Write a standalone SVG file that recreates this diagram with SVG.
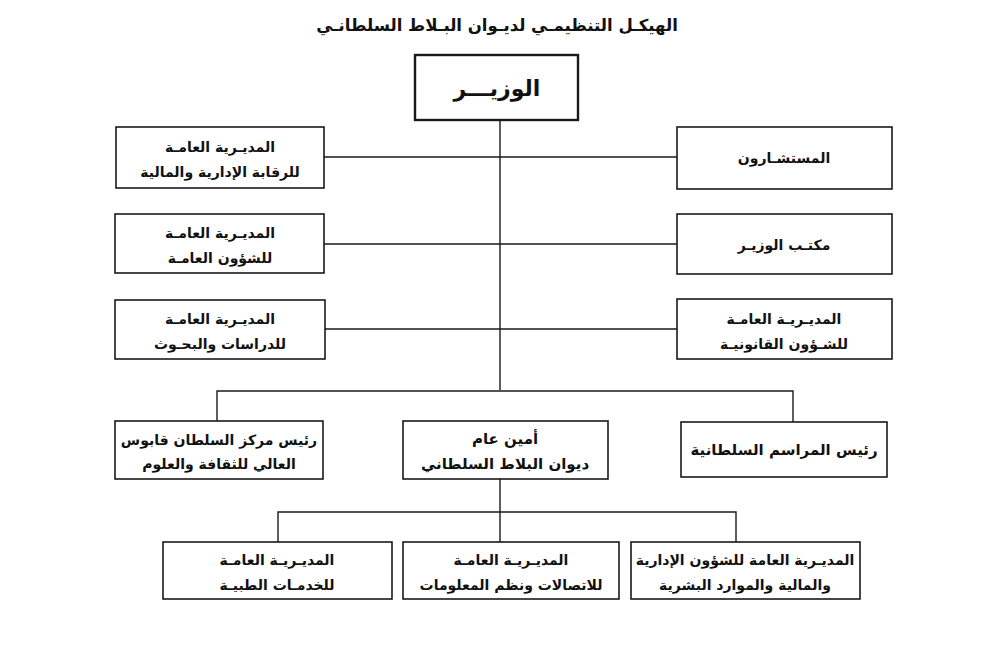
<svg xmlns="http://www.w3.org/2000/svg" width="1000" height="652" viewBox="0 0 1000 652">
<style>
.box{fill:#fff;stroke:#1a1a1a;stroke-width:1.6}
.top{fill:#fff;stroke:#1a1a1a;stroke-width:2.4}
.ln{fill:none;stroke:#1a1a1a;stroke-width:1.4}
text{font-family:"DejaVu Sans",sans-serif;font-weight:bold;fill:#111;text-anchor:middle;direction:rtl}
.t{font-size:14px}
.m{font-size:15px}
</style>
<rect width="1000" height="652" fill="#fff"/>
<text x="497" y="31" style="font-size:16.5px">الهيكـل التنظيمـي لديـوان البـلاط السلطانـي</text>
<g id="connectors">
<path class="ln" d="M500 120V390M500 479V512"/>
<path class="ln" d="M324 157H677M324 244H677M324 329H677"/>
<path class="ln" d="M217 421V391H793V422"/>
<path class="ln" d="M278 542V512H736V542M500 512V542"/>
</g>
<g id="minister"><rect class="top" x="415" y="55" width="163" height="65"/><text x="497" y="96" style="font-size:22px">الوزيـــر</text></g>
<g id="audit"><rect class="box" x="116" y="127" width="208" height="61"/><text class="t" x="220" y="152">المديـرية العامـة</text><text class="t" x="220" y="177">للرقابة الإدارية والمالية</text></g>
<g id="general-affairs"><rect class="box" x="115" y="214" width="209" height="59"/><text class="t" x="220" y="238">المديـرية العامـة</text><text class="t" x="220" y="263">للشؤون العامـة</text></g>
<g id="studies"><rect class="box" x="115" y="300" width="210" height="59"/><text class="t" x="220" y="324">المديـرية العامـة</text><text class="t" x="220" y="349">للدراسات والبحـوث</text></g>
<g id="advisors"><rect class="box" x="677" y="127" width="215" height="62"/><text class="t" x="784" y="163">المستشـارون</text></g>
<g id="office"><rect class="box" x="677" y="214" width="215" height="60"/><text class="t" x="784" y="250">مكتـب الوزيـر</text></g>
<g id="legal"><rect class="box" x="677" y="299" width="215" height="60"/><text class="t" x="784" y="324">المديـريـة العامـة</text><text class="t" x="784" y="349">للشـؤون القانونيـة</text></g>
<g id="qaboos-center"><rect class="box" x="115" y="421" width="208" height="58"/><text x="219" y="445" style="font-size:14px">رئيس مركز السلطان قابوس</text><text x="219" y="469" style="font-size:14px">العالي للثقافة والعلوم</text></g>
<g id="secretary"><rect class="box" x="403" y="421" width="205" height="58"/><text class="m" x="505" y="444">أمين عام</text><text class="m" x="505" y="469">ديوان البلاط السلطاني</text></g>
<g id="protocol"><rect class="box" x="681" y="422" width="206" height="55"/><text class="m" x="784" y="455">رئيس المراسم السلطانية</text></g>
<g id="medical"><rect class="box" x="163" y="542" width="229" height="57"/><text class="t" x="277" y="565">المديـريـة العامـة</text><text class="t" x="277" y="590">للخدمـات الطبيـة</text></g>
<g id="it"><rect class="box" x="403" y="542" width="216" height="57"/><text class="t" x="511" y="565">المديـريـة العامـة</text><text class="t" x="511" y="590">للاتصالات ونظم المعلومات</text></g>
<g id="hr"><rect class="box" x="631" y="542" width="229" height="57"/><text class="t" x="745" y="565">المديـرية العامة للشؤون الإدارية</text><text class="t" x="745" y="590">والمالية والموارد البشرية</text></g>
</svg>
